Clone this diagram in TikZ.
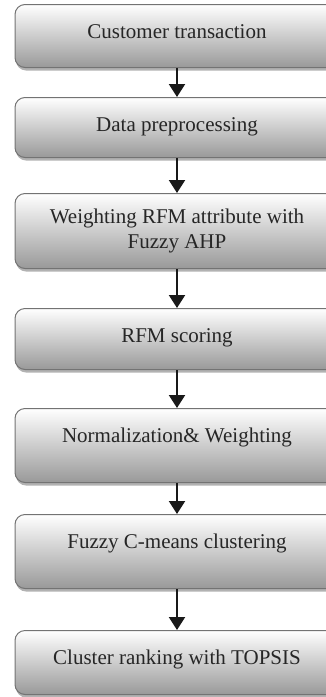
\documentclass[tikz,border=0pt]{standalone}
\usepackage{fontspec}
\setmainfont{Liberation Serif}
\usepackage{tikz}
\usetikzlibrary{arrows.meta,shadows}

\tikzset{
  stage/.style={draw=black!55, line width=1pt, rounded corners=10pt,
    top color=white, bottom color=black!40, minimum width=324pt,
    inner ysep=0pt, anchor=north, text=black!85,
    font=\fontsize{21}{25}\selectfont,
    drop shadow={shadow xshift=1pt, shadow yshift=-3pt, fill=black!30, opacity=1}},
  low/.style={text height=34pt, text depth=#1},
  flow/.style={-{Triangle[length=13pt,width=16pt]}, line width=2.2pt, black!90}
}

\begin{document}
\begin{tikzpicture}[x=1pt,y=1pt]
\pgfmathsetmacro{\midx}{177}
\useasboundingbox (0,0) rectangle (326,-697);
\clip (0,0) rectangle (326,-697);
% process steps
\node[stage, low=29pt] (trans) at (\midx,-4) {Customer transaction};
\node[stage, low=26pt] (prep) at (\midx,-97) {Data preprocessing};
\node[stage, minimum height=75pt, align=center] (ahp) at (\midx,-193)
  {Weighting RFM attribute with\\Fuzzy AHP};
\node[stage, low=27pt] (score) at (\midx,-308) {RFM scoring};
\node[stage, low=40pt] (norm) at (\midx,-408) {Normalization\& Weighting};
\node[stage, low=40pt] (fcm) at (\midx,-514) {Fuzzy C-means clustering};
\node[stage, low=30pt] (rank) at (\midx,-630) {Cluster ranking with TOPSIS};
% Arrows
\draw[flow] (trans) -- (prep);
\draw[flow] (prep) -- (ahp);
\draw[flow] (ahp) -- (score);
\draw[flow] (score) -- (norm);
\draw[flow] (norm) -- (fcm);
\draw[flow] (fcm) -- (rank);
\end{tikzpicture}
\end{document}
